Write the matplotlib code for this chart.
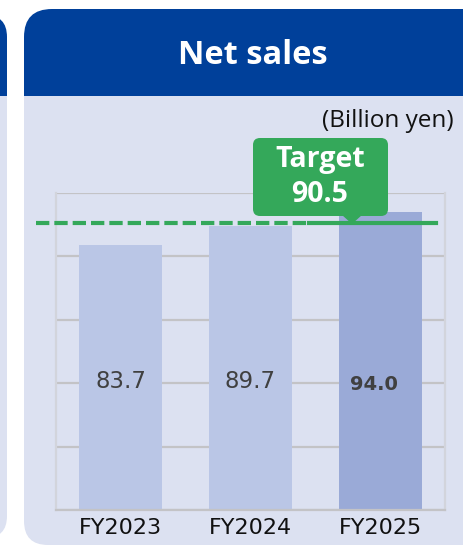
import matplotlib
matplotlib.use("Agg")
import matplotlib.pyplot as plt
from matplotlib.patches import FancyBboxPatch, Rectangle, Polygon

# data
years = ["FY2023", "FY2024", "FY2025"]
net_sales = [83.7, 89.7, 94.0]
target = 90.5
title = "Net sales"
unit = "(Billion yen)"

W, H = 464, 547
BLUE = "#00409a"
LAV = "#dce1f1"
GREEN = "#34a85a"
BAR = "#bac6e6"
BAR_LAST = "#9aaad7"
SANS = ["Open Sans", "Lato", "DejaVu Sans"]

fig = plt.figure(figsize=(W / 100, H / 100), dpi=100)

# background in pixel coords (y down)
bg = fig.add_axes([0, 0, 1, 1])
bg.set_xlim(0, W)
bg.set_ylim(H, 0)
bg.axis("off")

def rbox(ax, x0, y0, x1, y1, color, r=0):
    if r:
        p = FancyBboxPatch((x0, y0), x1 - x0, y1 - y0,
                           boxstyle=f"round,pad=0,rounding_size={r}",
                           fc=color, ec="none")
    else:
        p = Rectangle((x0, y0), x1 - x0, y1 - y0, fc=color, ec="none")
    ax.add_patch(p)

# left neighbour panel (cut off)
rbox(bg, -60, 15, 7, 150, BLUE, 22)
rbox(bg, -60, 96, 7, 300, LAV)
rbox(bg, -60, 250, 7, 538, LAV, 22)

# main panel
rbox(bg, 24, 9, 520, 150, BLUE, 28)
rbox(bg, 24, 96, 520, 300, LAV)
rbox(bg, 24, 250, 520, 545, LAV, 24)

bg.text(253, 56, title, color="white", fontsize=23.5, fontweight="bold",
        family=SANS, ha="center", va="center")
bg.text(454, 121, unit, color="#111111", fontsize=17.5, family=SANS,
        ha="right", va="center")

# chart
ax = fig.add_axes([56 / W, (H - 510) / H, 389 / W, 317 / H])
ax.set_zorder(2)
ax.patch.set_visible(False)
x = list(range(len(years)))
colors = [BAR] * (len(years) - 1) + [BAR_LAST]
ax.bar(x, net_sales, width=0.64, color=colors, zorder=2)
ax.set_xlim(-0.5, 2.5)
ax.set_ylim(0, 100)
ax.set_yticks([0, 20, 40, 60, 80, 100])
ax.set_yticklabels([])
ax.grid(axis="y", color="#c3c3c6", lw=1.6, zorder=0)
ax.tick_params(length=0)
ax.set_xticks(x)
ax.set_xticklabels(years, fontsize=16, family="DejaVu Sans", color="#111111")
ax.tick_params(axis="x", pad=6)
for s in ["left", "right"]:
    ax.spines[s].set_color("#d2d4dc")
    ax.spines[s].set_linewidth(1.6)
ax.spines["top"].set_visible(False)
ax.spines["bottom"].set_color("#c3c3c6")
ax.spines["bottom"].set_linewidth(1.6)

for i, v in enumerate(net_sales):
    last = i == len(net_sales) - 1
    ax.text(i - (0.05 if last else 0), 40.5 if not last else 39.7, f"{v:.1f}",
            ha="center", va="center", color="#404040",
            fontsize=14 if last else 16.5,
            fontweight="bold" if last else "normal", zorder=3)

# target line: dashed across past years, solid over the plan year
ax.plot([-0.655, 1.45], [target, target], color=GREEN, lw=3,
        dashes=(3.2, 1.2), clip_on=False, zorder=4)
ax.plot([1.45, 2.43], [target, target], color=GREEN, lw=3,
        clip_on=False, zorder=4)

# callout
ov = fig.add_axes([0, 0, 1, 1])
ov.set_zorder(3)
ov.patch.set_visible(False)
ov.set_xlim(0, W)
ov.set_ylim(H, 0)
ov.axis("off")
rbox(ov, 253, 138, 388, 216, GREEN, 7)
ov.add_patch(Polygon([[342, 215], [362, 215], [352, 224]], fc=GREEN, ec="none"))
ov.text(320, 159, "Target", color="white", fontsize=20.5, fontweight="bold",
        family=SANS, ha="center", va="center")
ov.text(320, 195, f"{target}", color="white", fontsize=20.5, fontweight="bold",
        family=SANS, ha="center", va="center")

fig.savefig("out.png", dpi=100, facecolor="white")
